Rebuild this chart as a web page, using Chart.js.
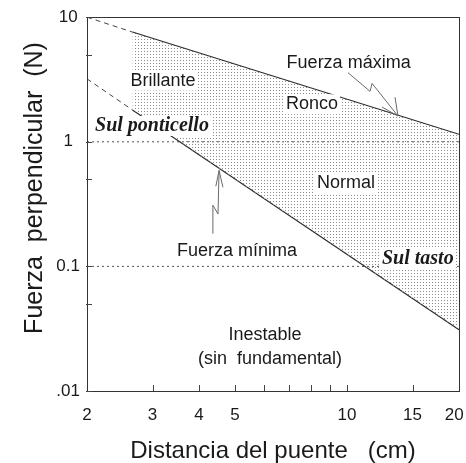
<!DOCTYPE html>
<html><head><meta charset="utf-8">
<script src="https://cdn.jsdelivr.net/npm/chart.js@4/dist/chart.umd.min.js"></script>
<style>html,body{margin:0;padding:0;background:#fff;}#wrap{width:466px;height:463px;}</style>
</head><body><div id="wrap"><canvas id="c" width="466" height="463"></canvas></div>
<script>
// ---- data ----
const xLimits = [2, 20];
const yLimits = [0.01, 10];
const xTickValues = [2, 3, 4, 5, 6, 7, 8, 9, 10, 15, 20];
const xTickLabels = ['2', '3', '4', '5', '', '', '', '', '10', '15', '20  '];
const yTickValues = [0.01, 0.05, 0.1, 0.5, 1, 5, 10];
const yTickLabels = ['.01', '', '0.1', '', '1', '', '10'];

const maxDashX = [2, 2.65];
const maxDashY = [10, 7.6];
const maxX = [2.65, 20];
const maxY = [7.6, 1.15];
const minDashX = [2, 2.65];
const minDashY = [3.2, 1.8];
const minX = [2.65, 20];
const minY = [1.8, 0.031];
const refLevels = [1, 0.1];

const xTitle = 'Distancia del puente   (cm)';
const yTitle = 'Fuerza  perpendicular  (N)';

// annotations (data coordinates)
const SANS = "'Liberation Sans', Arial, sans-serif";
const NARROW = "'Liberation Sans Narrow', 'Liberation Sans', Arial, sans-serif";
const SERIF = "'Liberation Serif', 'DejaVu Serif', serif";
const labels = [
  {t: 'Brillante', x: 3.20, y: 3.10, f: '18px ' + SANS, bg: true},
  {t: 'Ronco', x: 8.05, y: 2.00, f: '18px ' + SANS, bg: true},
  {t: 'Fuerza máxima', x: 10.1, y: 4.31, f: '18px ' + SANS, bg: false},
  {t: 'Sul ponticello', x: 2.99, y: 1.34, f: 'italic bold 20px ' + SERIF, bg: true},
  {t: 'Normal', x: 9.94, y: 0.464, f: '18px ' + SANS, bg: true},
  {t: 'Fuerza mínima', x: 5.06, y: 0.134, f: '18px ' + SANS, bg: false},
  {t: 'Sul tasto', x: 15.5, y: 0.1157, f: 'italic bold 20px ' + SERIF, bg: true},
  {t: 'Inestable', x: 6.02, y: 0.0283, f: '18px ' + SANS, bg: false},
  {t: '(sin  fundamental)', x: 6.21, y: 0.01795, f: '18px ' + SANS, bg: false}
];
const arrows = [
  {path: [[10.06, 3.59], [11.53, 2.54], [11.68, 2.94], [13.71, 1.61]], head: [[13.46, 2.28], [13.71, 1.61], [12.42, 1.90]]},
  {path: [[4.36, 0.183], [4.36, 0.31], [4.50, 0.263], [4.53, 0.589]], head: [[4.44, 0.44], [4.53, 0.589], [4.64, 0.431]]}
];

const pts = (xs, ys) => xs.map((x, i) => ({x: x, y: ys[i]}));

// dotted fill pattern
const pc = document.createElement('canvas');
pc.width = 3; pc.height = 3;
const pg = pc.getContext('2d');
pg.fillStyle = '#8c8c8c';
pg.fillRect(0, 0, 1, 1);
const canvas = document.getElementById('c');
const pattern = canvas.getContext('2d').createPattern(pc, 'repeat');

const LINE = '#2a2a2a';
const datasets = [
  {data: pts(maxX, maxY), borderColor: LINE, borderWidth: 1.1, fill: '+1', backgroundColor: pattern},
  {data: pts(minX, minY), borderColor: LINE, borderWidth: 1.1, fill: false},
  {data: pts(maxDashX, maxDashY), borderColor: '#444', borderWidth: 1, borderDash: [5, 4], fill: false},
  {data: pts(minDashX, minDashY), borderColor: '#444', borderWidth: 1, borderDash: [5, 4], fill: false}
];
refLevels.forEach(v => datasets.push({
  data: pts(xLimits, [v, v]), borderColor: '#555', borderWidth: 1, borderDash: [2, 3], fill: false
}));

const decor = {
  id: 'decor',
  afterDatasetsDraw(chart) {
    const ctx = chart.ctx, xs = chart.scales.x, ys = chart.scales.y, a = chart.chartArea;
    const P = (p) => [xs.getPixelForValue(p[0]), ys.getPixelForValue(p[1])];
    ctx.save();
    // frame
    ctx.strokeStyle = '#333'; ctx.lineWidth = 1; ctx.setLineDash([]);
    ctx.strokeRect(Math.round(a.left) + 0.5, Math.round(a.top) + 0.5, Math.round(a.right - a.left), Math.round(a.bottom - a.top));
    // inward ticks
    ctx.strokeStyle = '#444';
    xTickValues.forEach(v => {
      if (v === xLimits[0] || v === xLimits[1]) return;
      const px = Math.round(xs.getPixelForValue(v)) + 0.5;
      ctx.beginPath(); ctx.moveTo(px, a.bottom); ctx.lineTo(px, a.bottom - 6); ctx.stroke();
    });
    yTickValues.forEach(v => {
      const py = Math.round(ys.getPixelForValue(v)) + 0.5;
      ctx.beginPath(); ctx.moveTo(a.left - 1, py); ctx.lineTo(a.left + 5, py); ctx.stroke();
    });
    // arrows
    ctx.strokeStyle = '#6a6a6a'; ctx.lineWidth = 1;
    arrows.forEach(ar => {
      [ar.path, ar.head].forEach(path => {
        ctx.beginPath();
        path.forEach((p, i) => { const q = P(p); if (i) ctx.lineTo(q[0], q[1]); else ctx.moveTo(q[0], q[1]); });
        ctx.stroke();
      });
    });
    // labels
    ctx.textAlign = 'center'; ctx.textBaseline = 'middle';
    labels.forEach(l => {
      ctx.font = l.f;
      const q = P([l.x, l.y]);
      if (l.bg) {
        const w = ctx.measureText(l.t).width;
        ctx.fillStyle = '#fff';
        ctx.fillRect(q[0] - w / 2 - 2, q[1] - 10, w + 4, 20);
      }
      ctx.fillStyle = '#1a1a1a';
      ctx.fillText(l.t, q[0], q[1]);
    });
    // axis titles
    ctx.fillStyle = '#1a1a1a';
    ctx.font = '24px ' + SANS;
    ctx.textBaseline = 'alphabetic';
    ctx.fillText(xTitle, (a.left + a.right) / 2, 458);
    ctx.save();
    ctx.translate(42, 188);
    ctx.rotate(-Math.PI / 2);
    ctx.font = '25px ' + SANS;
    ctx.fillText(yTitle, 0, 0);
    ctx.restore();
    ctx.restore();
  }
};

new Chart(canvas, {
  type: 'line',
  data: {datasets: datasets},
  options: {
    responsive: false, animation: false, devicePixelRatio: 1,
    layout: {padding: {top: 12, right: 7, left: 0, bottom: 0}},
    plugins: {legend: {display: false}, tooltip: {enabled: false}},
    elements: {point: {radius: 0}, line: {tension: 0}},
    scales: {
      x: {
        type: 'logarithmic', min: xLimits[0], max: xLimits[1],
        grid: {display: false, drawTicks: false}, border: {display: false},
        afterBuildTicks: s => { s.ticks = xTickValues.map(v => ({value: v})); },
        afterFit: s => { s.height = 72; s.paddingLeft = 0; s.paddingRight = 0; },
        ticks: {autoSkip: false, maxRotation: 0, padding: 14, color: '#1a1a1a',
          font: {family: NARROW, size: 17},
          callback: (v, i) => xTickLabels[i]}
      },
      y: {
        type: 'logarithmic', min: yLimits[0], max: yLimits[1],
        grid: {display: false, drawTicks: false}, border: {display: false},
        afterBuildTicks: s => { s.ticks = yTickValues.map(v => ({value: v})); },
        afterFit: s => { s.width = 87; },
        ticks: {autoSkip: false, padding: 7, crossAlign: 'center', color: '#1a1a1a',
          font: {family: NARROW, size: 17},
          callback: (v, i) => yTickLabels[i]}
      }
    }
  },
  plugins: [decor]
});
</script></body></html>
